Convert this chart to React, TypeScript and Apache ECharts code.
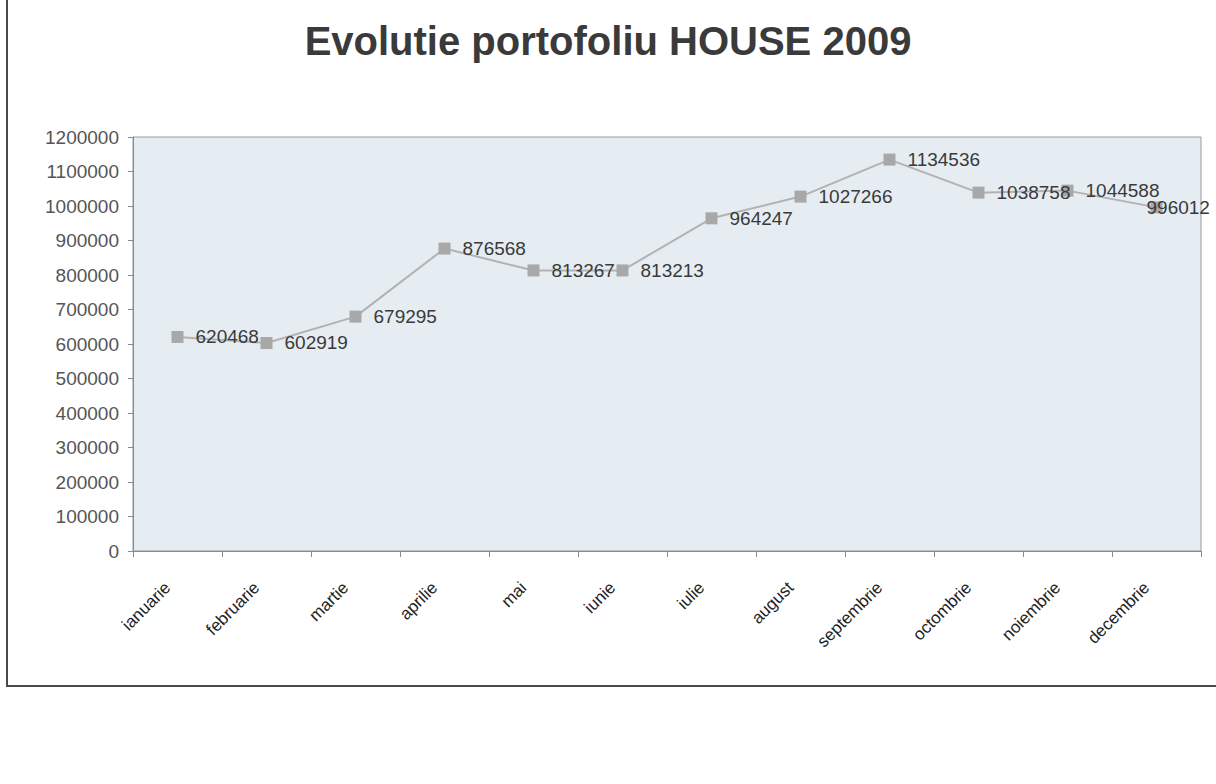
import React, { useEffect, useRef } from "react";
import * as echarts from "echarts";

const months = [
  "ianuarie",
  "februarie",
  "martie",
  "aprilie",
  "mai",
  "iunie",
  "iulie",
  "august",
  "septembrie",
  "octombrie",
  "noiembrie",
  "decembrie",
];

const portfolio = [
  620468, 602919, 679295, 876568, 813267, 813213, 964247, 1027266, 1134536,
  1038758, 1044588, 996012,
];

const titleText = "Evolutie portofoliu HOUSE 2009";

export default function App() {
  const ref = useRef<HTMLDivElement>(null);

  useEffect(() => {
    document.body.style.margin = "0";
    const chart = echarts.init(ref.current!, null, { renderer: "svg" });
    const seriesData = portfolio.map((v, i) =>
      i === portfolio.length - 1
        ? { value: v, label: { offset: [-28, 0] } }
        : { value: v }
    );
    chart.setOption({
      animation: false,
      backgroundColor: "#ffffff",
      title: {
        text: titleText,
        left: "center",
        top: 16,
        textStyle: {
          fontFamily: "Liberation Sans, Arial, sans-serif",
          fontSize: 40,
          fontWeight: "bold",
          color: "#3a3a3a",
        },
      },
      graphic: [
        {
          type: "rect",
          shape: { x: 7, y: -10, width: 1230, height: 696 },
          style: { fill: "none", stroke: "#4a4a4a", lineWidth: 2 },
          silent: true,
          z: 100,
        },
      ],
      grid: {
        left: 133,
        right: 15,
        top: 137,
        bottom: 233,
        show: true,
        backgroundColor: "#e5edf2",
        borderColor: "#9a9a9a",
        borderWidth: 1,
      },
      xAxis: {
        type: "category",
        data: months,
        boundaryGap: true,
        axisLine: { show: true, lineStyle: { color: "#8a8a8a", width: 1 } },
        axisTick: {
          show: true,
          length: 6,
          alignWithLabel: false,
          lineStyle: { color: "#8a8a8a" },
        },
        axisLabel: {
          rotate: 45,
          margin: 24,
          padding: [0, 14, 0, 0],
          fontFamily: "Liberation Sans, Arial, sans-serif",
          fontSize: 17,
          color: "#222222",
          interval: 0,
        },
        splitLine: { show: false },
      },
      yAxis: {
        type: "value",
        min: 0,
        max: 1200000,
        interval: 100000,
        axisLine: { show: true, lineStyle: { color: "#8a8a8a", width: 1 } },
        axisTick: { show: true, length: 5, lineStyle: { color: "#8a8a8a" } },
        axisLabel: {
          margin: 14,
          formatter: (v: number) => String(v),
          fontFamily: "Liberation Sans, Arial, sans-serif",
          fontSize: 19,
          color: "#555555",
        },
        splitLine: { show: false },
      },
      series: [
        {
          type: "line",
          data: seriesData,
          symbol: "rect",
          symbolSize: 12,
          itemStyle: { color: "#a8a8a8" },
          lineStyle: { color: "#b2b2b2", width: 2 },
          label: {
            show: true,
            position: "right",
            distance: 12,
            fontFamily: "Liberation Sans, Arial, sans-serif",
            fontSize: 19,
            color: "#3a3a3a",
          },
        },
      ],
    });
    return () => chart.dispose();
  }, []);

  return <div ref={ref} style={{ width: 1216, height: 784 }} />;
}
